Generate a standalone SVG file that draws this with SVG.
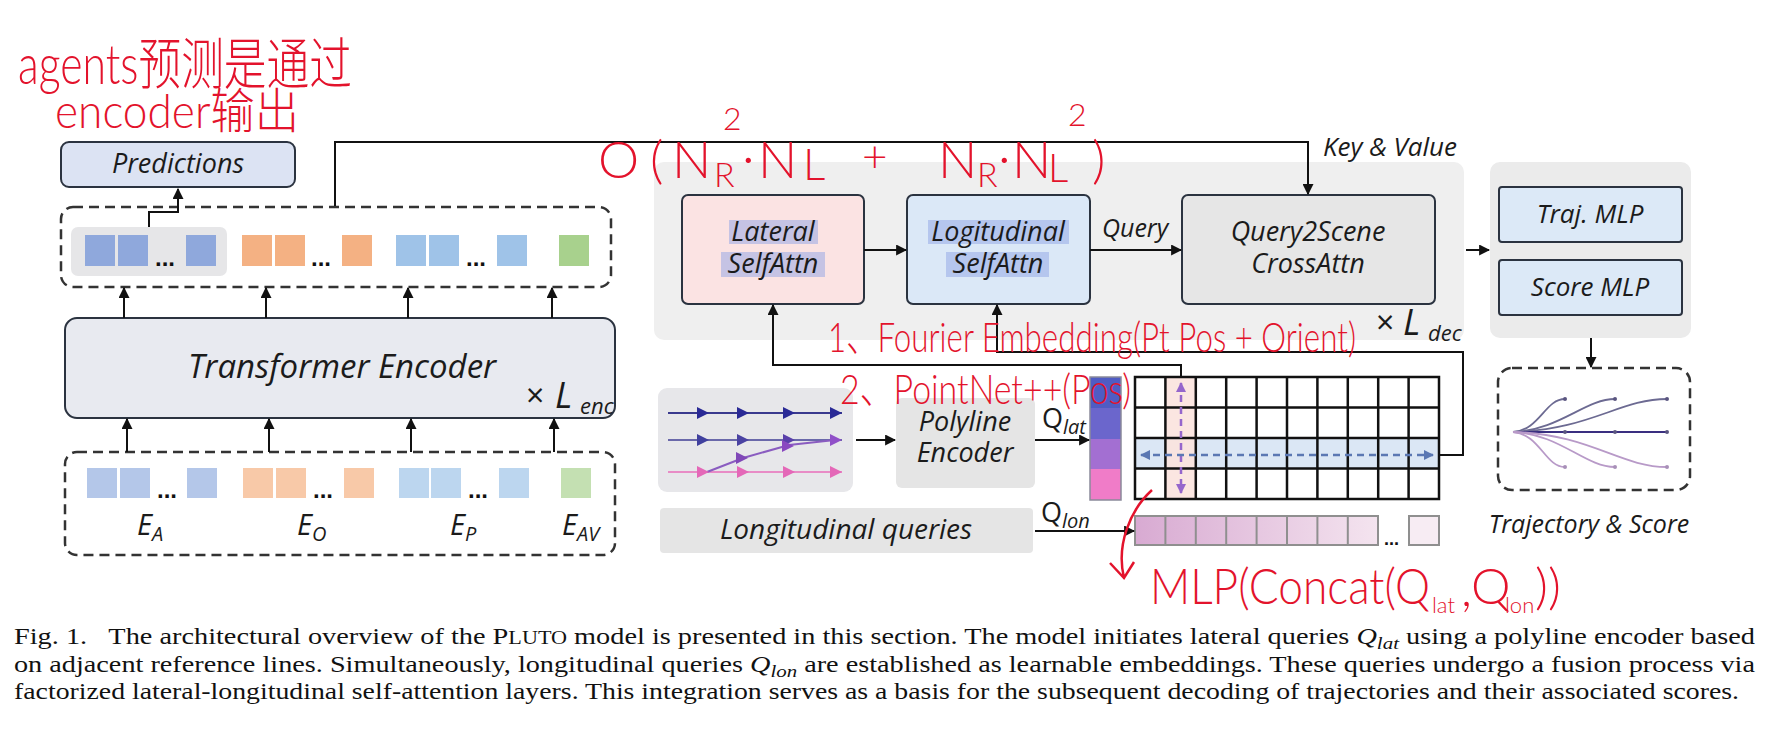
<svg xmlns="http://www.w3.org/2000/svg" width="1776" height="743" viewBox="0 0 1776 743">
<defs>
<marker id="ah" viewBox="0 0 10 10" refX="9" refY="5" markerWidth="11" markerHeight="11" markerUnits="userSpaceOnUse" orient="auto"><path d="M0,0 L10,5 L0,10 z" fill="#111"/></marker>
<marker id="ahP" viewBox="0 0 10 10" refX="9" refY="5" markerWidth="10" markerHeight="10" markerUnits="userSpaceOnUse" orient="auto-start-reverse"><path d="M0,0 L10,5 L0,10 z" fill="#9566cc"/></marker>
<marker id="ahB" viewBox="0 0 10 10" refX="9" refY="5" markerWidth="10" markerHeight="10" markerUnits="userSpaceOnUse" orient="auto-start-reverse"><path d="M0,0 L10,5 L0,10 z" fill="#5b78b3"/></marker>
<linearGradient id="lonGrad" x1="0" y1="0" x2="1" y2="0"><stop offset="0" stop-color="#d8aad2"/><stop offset="1" stop-color="#f4e4ef"/></linearGradient>
</defs>
<style>
.box{stroke:#2b3340;stroke-width:2}
.lbl{font-family:"Open Sans","DejaVu Sans",sans-serif;font-style:italic;fill:#1b1b1b}
.up{font-family:"Open Sans","DejaVu Sans",sans-serif;fill:#1b1b1b}
.conn{fill:none;stroke:#111;stroke-width:2}
.dash{fill:none;stroke:#333;stroke-width:2.5;stroke-dasharray:10 6}
.hand{font-family:"Lato","Noto Sans CJK SC",sans-serif;fill:#e3132c;font-weight:300}
.cap{font-family:"Liberation Serif",serif;fill:#111;font-size:23px}
.dots{font-family:"Liberation Sans",sans-serif;font-weight:bold;fill:#111}
.hl{fill:#8fa3e6;opacity:0.5}
.grid{fill:none;stroke:#111;stroke-width:2.5}
.sqA{fill:#8fa8dc}.sqO{fill:#f4b183}.sqP{fill:#9fc3e8}.sqG{fill:#a8d18d}
.sqA2{fill:#b4c7e9}.sqO2{fill:#f8c9a8}.sqP2{fill:#bcd6ef}.sqG2{fill:#c4e0b2}
</style>
<rect width="1776" height="743" fill="#ffffff"/>

<g id="decoder-panel"><rect x="654" y="162" width="810" height="178" rx="10" fill="#efefef"/>
<text class="up" x="1376" y="334" font-size="32">×</text><text class="lbl" x="1403" y="335" font-size="36">L</text><text class="lbl" x="1428" y="341" font-size="22">dec</text></g>
<g id="mlp-panel"><rect x="1490" y="162" width="201" height="176" rx="10" fill="#ebebeb"/></g>

<g id="predictions"><rect class="box" x="61" y="142" width="234" height="45" rx="8" fill="#dce3f3"/>
<text class="lbl" x="178" y="173" font-size="27" text-anchor="middle">Predictions</text></g>

<g id="encoder-output">
<rect class="dash" x="61" y="207" width="550" height="80" rx="12"/>
<rect x="71" y="227" width="156" height="49" rx="7" fill="#e6e6e8"/>
<rect class="sqA" x="85" y="235" width="30" height="31"/><rect class="sqA" x="118" y="235" width="30" height="31"/><text class="dots" x="155" y="266" font-size="24">...</text><rect class="sqA" x="186" y="235" width="30" height="31"/>
<rect class="sqO" x="242" y="235" width="30" height="31"/><rect class="sqO" x="275" y="235" width="30" height="31"/><text class="dots" x="311" y="266" font-size="24">...</text><rect class="sqO" x="342" y="235" width="30" height="31"/>
<rect class="sqP" x="396" y="235" width="30" height="31"/><rect class="sqP" x="429" y="235" width="30" height="31"/><text class="dots" x="466" y="266" font-size="24">...</text><rect class="sqP" x="497" y="235" width="30" height="31"/>
<rect class="sqG" x="559" y="235" width="30" height="31"/>
</g>

<g id="transformer-encoder"><rect class="box" x="65" y="318" width="550" height="100" rx="12" fill="#e8eaf0"/>
<text class="lbl" x="342" y="378" font-size="33" text-anchor="middle">Transformer Encoder</text>
<text class="up" x="526" y="407" font-size="32">×</text><text class="lbl" x="555" y="408" font-size="36">L</text><text class="lbl" x="580" y="414" font-size="22">enc</text></g>

<g id="embeddings">
<rect class="dash" x="65" y="452" width="550" height="103" rx="12"/>
<rect class="sqA2" x="87" y="468" width="30" height="30"/><rect class="sqA2" x="120" y="468" width="30" height="30"/><text class="dots" x="157" y="498" font-size="24">...</text><rect class="sqA2" x="187" y="468" width="30" height="30"/>
<rect class="sqO2" x="243" y="468" width="30" height="30"/><rect class="sqO2" x="276" y="468" width="30" height="30"/><text class="dots" x="313" y="498" font-size="24">...</text><rect class="sqO2" x="344" y="468" width="30" height="30"/>
<rect class="sqP2" x="399" y="468" width="30" height="30"/><rect class="sqP2" x="431" y="468" width="30" height="30"/><text class="dots" x="468" y="498" font-size="24">...</text><rect class="sqP2" x="499" y="468" width="30" height="30"/>
<rect class="sqG2" x="561" y="468" width="30" height="30"/>
<text class="lbl" x="137" y="535" font-size="29">E<tspan font-size="20" dy="6">A</tspan></text>
<text class="lbl" x="297" y="535" font-size="29">E<tspan font-size="20" dy="6">O</tspan></text>
<text class="lbl" x="450" y="535" font-size="29">E<tspan font-size="20" dy="6">P</tspan></text>
<text class="lbl" x="562" y="535" font-size="29">E<tspan font-size="20" dy="6">AV</tspan></text>
</g>

<g id="lateral-selfattn"><rect class="box" x="682" y="195" width="182" height="109" rx="6" fill="#fbe3e3"/>
<rect class="hl" x="729" y="220" width="89" height="24"/><rect class="hl" x="721" y="252" width="104" height="25"/>
<text class="lbl" x="773" y="241" font-size="27" text-anchor="middle" fill="#1e2a4a">Lateral</text>
<text class="lbl" x="773" y="273" font-size="27" text-anchor="middle" fill="#1e2a4a">SelfAttn</text></g>

<g id="longitudinal-selfattn"><rect class="box" x="907" y="195" width="183" height="109" rx="6" fill="#dbe8f7"/>
<rect class="hl" x="928" y="220" width="141" height="24"/><rect class="hl" x="946" y="252" width="103" height="25"/>
<text class="lbl" x="998" y="241" font-size="27" text-anchor="middle" fill="#1e2a4a">Logitudinal</text>
<text class="lbl" x="998" y="273" font-size="27" text-anchor="middle" fill="#1e2a4a">SelfAttn</text></g>

<g id="query2scene"><rect class="box" x="1182" y="195" width="253" height="109" rx="6" fill="#e6e6e6"/>
<text class="lbl" x="1308" y="241" font-size="27" text-anchor="middle">Query2Scene</text>
<text class="lbl" x="1308" y="273" font-size="27" text-anchor="middle">CrossAttn</text></g>

<g id="traj-mlp"><rect class="box" x="1499" y="187" width="183" height="55" rx="3" fill="#dce9f7"/>
<text class="lbl" x="1590" y="223" font-size="26" text-anchor="middle">Traj. MLP</text></g>
<g id="score-mlp"><rect class="box" x="1499" y="260" width="183" height="55" rx="3" fill="#dce9f7"/>
<text class="lbl" x="1590" y="296" font-size="26" text-anchor="middle">Score MLP</text></g>

<g id="trajectory-score">
<rect class="dash" x="1498" y="368" width="192" height="122" rx="14"/>
<g fill="none" stroke-width="1.8">
<path d="M1513,432 C1540,430 1545,399 1565,399" stroke="#6c6a92"/>
<path d="M1513,432 C1560,430 1585,399 1615,399" stroke="#6c6a92"/>
<path d="M1513,432 C1590,430 1620,399 1667,399" stroke="#6c6a92"/>
<path d="M1513,432 L1667,432" stroke="#3a2f80"/>
<path d="M1513,432 C1540,434 1545,467 1565,467" stroke="#b89ac8"/>
<path d="M1513,432 C1560,434 1585,467 1615,467" stroke="#b89ac8"/>
<path d="M1513,432 C1590,434 1620,467 1667,467" stroke="#b89ac8"/>
</g>
<g fill="#5a5580"><circle cx="1565" cy="399" r="2"/><circle cx="1615" cy="399" r="2"/><circle cx="1667" cy="399" r="2"/><circle cx="1565" cy="432" r="2"/><circle cx="1615" cy="432" r="2"/><circle cx="1667" cy="432" r="2"/><circle cx="1565" cy="467" r="2" fill="#a890b8"/><circle cx="1615" cy="467" r="2" fill="#a890b8"/><circle cx="1667" cy="467" r="2" fill="#a890b8"/></g>
<text class="lbl" x="1589" y="533" font-size="25" text-anchor="middle">Trajectory &amp; Score</text>
</g>

<g id="reference-lines"><rect x="658" y="388" width="195" height="104" rx="9" fill="#e7e7ea"/>
<line x1="668" y1="413" x2="842" y2="413" stroke="#3a3a8e" stroke-width="2"/>
<line x1="668" y1="440" x2="842" y2="440" stroke="#6a68aa" stroke-width="2"/>
<line x1="668" y1="472" x2="842" y2="472" stroke="#e88cc6" stroke-width="2"/>
<polyline points="707,472 743,458 789,445 835,440" fill="none" stroke="#8a5cc0" stroke-width="2"/>
<g fill="#2a2a96"><polygon points="697,407 709,413 697,419"/><polygon points="737,407 749,413 737,419"/><polygon points="783,407 795,413 783,419"/><polygon points="830,407 842,413 830,419"/></g>
<g><polygon points="697,434 709,440 697,446" fill="#40409e"/><polygon points="737,434 749,440 737,446" fill="#4a42a2"/><polygon points="783,434 795,440 783,446" fill="#5a40aa"/><polygon points="830,434 842,440 830,446" fill="#9050c8"/></g>
<g fill="#e468b8"><polygon points="697,466 709,472 697,478"/><polygon points="737,466 749,472 737,478"/><polygon points="783,466 795,472 783,478"/><polygon points="830,466 842,472 830,478"/></g>
<polygon points="736,452 748,458 736,464" fill="#8048b8"/><polygon points="782,440 794,446 782,452" fill="#8a48c0"/>
</g>

<g id="polyline-encoder"><rect x="896" y="398" width="139" height="90" rx="6" fill="#e5e5e5"/>
<text class="lbl" x="965" y="431" font-size="27" text-anchor="middle">Polyline</text>
<text class="lbl" x="965" y="462" font-size="27" text-anchor="middle">Encoder</text></g>

<g id="longitudinal-queries"><rect x="660" y="508" width="373" height="45" rx="4" fill="#e5e5e5"/>
<text class="lbl" x="846" y="539" font-size="28" text-anchor="middle">Longitudinal queries</text></g>

<g id="q-lat">
<rect x="1090" y="377" width="31" height="31" fill="#4f5cc4"/><rect x="1090" y="408" width="31" height="31" fill="#6b66cc"/><rect x="1090" y="439" width="31" height="30" fill="#a36fd2"/><rect x="1090" y="469" width="31" height="31" fill="#f07cc8"/>
<rect x="1090" y="377" width="31" height="123" fill="none" stroke="#8a8a9a" stroke-width="1.5"/>
<text class="up" x="1042" y="428" font-size="27">Q<tspan class="lbl" font-size="20" dy="6">lat</tspan></text>
</g>

<g id="query-grid">
<rect x="1135" y="439" width="304" height="30" fill="#dbe7f5"/>
<rect x="1166" y="377" width="30" height="122" fill="#fbe3de" opacity="0.9"/>
<rect class="grid" x="1135" y="377" width="304" height="122"/>
<path class="grid" d="M1165.4,377V499M1195.8,377V499M1226.2,377V499M1256.6,377V499M1287,377V499M1317.4,377V499M1347.8,377V499M1378.2,377V499M1408.6,377V499M1135,407.5H1439M1135,438H1439M1135,468.5H1439"/>
<line x1="1181" y1="383" x2="1181" y2="493" stroke="#9566cc" stroke-width="2.5" stroke-dasharray="7 5" marker-start="url(#ahP)" marker-end="url(#ahP)"/>
<line x1="1141" y1="455" x2="1433" y2="455" stroke="#5b78b3" stroke-width="2.5" stroke-dasharray="7 5" marker-start="url(#ahB)" marker-end="url(#ahB)"/>
</g>

<g id="q-lon">
<rect x="1135" y="516" width="243" height="29" fill="url(#lonGrad)"/>
<path d="M1135,516H1378V545H1135Z M1165.4,516V545M1195.8,516V545M1226.2,516V545M1256.6,516V545M1287,516V545M1317.4,516V545M1347.8,516V545" fill="none" stroke="#8f8f8f" stroke-width="2"/>
<text class="dots" x="1384" y="545" font-size="18">...</text>
<rect x="1409" y="516" width="30" height="29" fill="#f7ecf3" stroke="#8f8f8f" stroke-width="2"/>
<text class="up" x="1041" y="522" font-size="27">Q<tspan class="lbl" font-size="20" dy="6">lon</tspan></text>
</g>

<g id="connectors">
<path class="conn" d="M149,227 V212 H178 V189" marker-end="url(#ah)"/>
<path class="conn" d="M335,206 V142 H1308 V194" marker-end="url(#ah)"/>
<path class="conn" d="M124,318 V288" marker-end="url(#ah)"/><path class="conn" d="M266,318 V288" marker-end="url(#ah)"/><path class="conn" d="M408,318 V288" marker-end="url(#ah)"/><path class="conn" d="M552,318 V288" marker-end="url(#ah)"/>
<path class="conn" d="M127,452 V419" marker-end="url(#ah)"/><path class="conn" d="M269,452 V419" marker-end="url(#ah)"/><path class="conn" d="M411,452 V419" marker-end="url(#ah)"/><path class="conn" d="M554,452 V419" marker-end="url(#ah)"/>
<path class="conn" d="M864,250 H906" marker-end="url(#ah)"/>
<path class="conn" d="M1090,250 H1181" marker-end="url(#ah)"/>
<text class="lbl" x="1102" y="237" font-size="25">Query</text>
<path class="conn" d="M1466,250 H1489" marker-end="url(#ah)"/>
<path class="conn" d="M1591,338 V367" marker-end="url(#ah)"/>
<path class="conn" d="M856,440 H895" marker-end="url(#ah)"/>
<path class="conn" d="M1035,440 H1089" marker-end="url(#ah)"/>
<path class="conn" d="M1035,531 H1134" marker-end="url(#ah)"/>
<path class="conn" d="M1181,378 V365 H773 V305" marker-end="url(#ah)"/>
<path class="conn" d="M1439,455 H1463 V352 H997 V305" marker-end="url(#ah)"/>
<text class="lbl" x="1323" y="156" font-size="26">Key &amp; Value</text>
</g>

<g id="annotations">
<text class="hand" x="18" y="84" font-size="56" textLength="334" lengthAdjust="spacingAndGlyphs">agents预测是通过</text>
<text class="hand" x="55" y="128" font-size="48" textLength="244" lengthAdjust="spacingAndGlyphs">encoder输出</text>
<text class="hand" font-size="52"><tspan x="598" y="178">O</tspan><tspan x="650" y="178">(</tspan><tspan x="672" y="178">N</tspan><tspan x="714" y="187" font-size="34">R</tspan><tspan x="723" y="130" font-size="32">2</tspan><tspan x="742" y="176">·</tspan><tspan x="758" y="178">N</tspan><tspan x="803" y="180" font-size="44">L</tspan><tspan x="862" y="172" font-size="44">+</tspan><tspan x="938" y="178">N</tspan><tspan x="977" y="187" font-size="34">R</tspan><tspan x="998" y="176">·</tspan><tspan x="1012" y="178">N</tspan><tspan x="1048" y="182" font-size="40">L</tspan><tspan x="1068" y="126" font-size="32">2</tspan><tspan x="1092" y="178">)</tspan></text>
<text class="hand" x="828" y="352" font-size="42" textLength="528" lengthAdjust="spacingAndGlyphs">1、Fourier Embedding(Pt Pos + Orient)</text>
<text class="hand" x="840" y="404" font-size="42" textLength="291" lengthAdjust="spacingAndGlyphs">2、PointNet++(Pos)</text>
<path d="M1152,490 C1130,510 1116,545 1124,578 M1110,563 L1124,578 L1134,562" fill="none" stroke="#e3132c" stroke-width="2.5"/>
<text class="hand" font-size="50"><tspan x="1150" y="604" textLength="280" lengthAdjust="spacingAndGlyphs">MLP(Concat(Q</tspan><tspan x="1432" y="613" font-size="22">lat</tspan><tspan x="1461" y="606">,</tspan><tspan x="1471" y="604">Q</tspan><tspan x="1505" y="613" font-size="22">lon</tspan><tspan x="1535" y="604">))</tspan></text>
</g>

<g id="caption">
<text class="cap" x="14" y="644" textLength="1741" lengthAdjust="spacingAndGlyphs">Fig. 1.&#160;&#160;&#160;The architectural overview of the P<tspan font-size="18">LUTO</tspan> model is presented in this section. The model initiates lateral queries <tspan font-style="italic">Q</tspan><tspan font-style="italic" font-size="17" dy="5">lat</tspan><tspan dy="-5"> using a polyline encoder based</tspan></text>
<text class="cap" x="14" y="672" textLength="1741" lengthAdjust="spacingAndGlyphs">on adjacent reference lines. Simultaneously, longitudinal queries <tspan font-style="italic">Q</tspan><tspan font-style="italic" font-size="17" dy="5">lon</tspan><tspan dy="-5"> are established as learnable embeddings. These queries undergo a fusion process via</tspan></text>
<text class="cap" x="14" y="699" textLength="1725" lengthAdjust="spacingAndGlyphs">factorized lateral-longitudinal self-attention layers. This integration serves as a basis for the subsequent decoding of trajectories and their associated scores.</text>
</g>
</svg>
